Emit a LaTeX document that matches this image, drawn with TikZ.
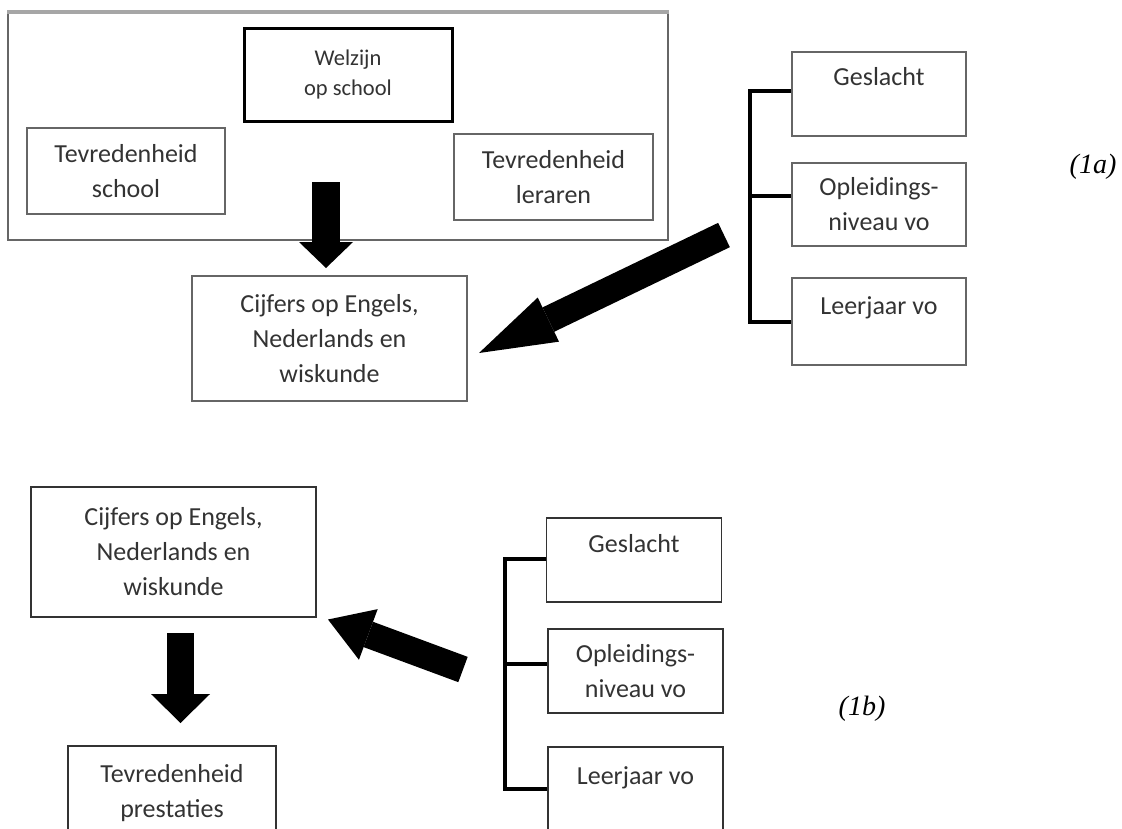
\documentclass[tikz,border=0pt]{standalone}
\usepackage{fontspec}
\setmainfont{Carlito}
\newfontfamily\tnr{Liberation Serif}
\usetikzlibrary{arrows.meta}
\begin{document}
\begin{tikzpicture}[x=1pt,y=-1pt,
  txt/.style={text=black!80, font=\fontsize{26}{35}\selectfont, align=center},
  box/.style={txt, draw=black!60, line width=2pt, inner sep=0pt},
  boxb/.style={txt, draw=black!80, line width=1.6pt, inner sep=0pt},
  toptext/.style={txt, anchor=north, inner sep=0pt},
  bracket/.style={draw=black, line width=3.5pt, line join=miter},
  fat/.style={draw=black, line width=#1},
  tag/.style={font=\tnr\itshape\fontsize{28}{32}\selectfont, inner sep=0pt}]
\useasboundingbox (0,0) rectangle (1122,828);
\clip (0,0) rectangle (1122,828);

% ---------------- (1a) ----------------
\node[box, minimum width=660pt, minimum height=227pt] (outer) at (338,126.5) {};
\draw[black!35, line width=3.5pt] (outer.north west) -- (outer.north east);
\node[txt, draw=black, line width=3pt, inner sep=0pt, minimum width=208pt, minimum height=93pt,
      font=\fontsize{22.5}{30}\selectfont] (welz) at (348,74.5) {Welzijn\\op school};
\node[box, minimum width=198pt, minimum height=86pt] (tsch) at (126,171) {Tevredenheid\\school};
\node[box, minimum width=199pt, minimum height=86pt] (tler) at (553.5,177) {Tevredenheid\\leraren};
\node[box, minimum width=275pt, minimum height=125pt] (cij1) at (329.5,338.5) {Cijfers op Engels,\\Nederlands en\\wiskunde};

\node[box, minimum width=174pt, minimum height=84pt,
      label={[toptext, yshift=-16pt]north:Geslacht}] (ges1) at (879,94) {};
\node[box, minimum width=174pt, minimum height=83pt] (opl1) at (879,204.5) {Opleidings-\\niveau vo};
\node[box, minimum width=174pt, minimum height=87pt,
      label={[toptext, yshift=-19pt]north:Leerjaar vo}] (lee1) at (879,321.5) {};

\coordinate (b1t) at (750,91);
\coordinate (b1m) at (750,196);
\coordinate (b1b) at (750,322);
\draw[bracket] (b1t -| ges1.west) -- (b1t) -- (b1b) -- (b1b -| lee1.west);
\draw[bracket] (b1m) -- (b1m -| opl1.west);

\coordinate (a1s) at (326,182);
\coordinate (a1e) at (326,268);
\draw[fat=28pt, -{Triangle[width=54pt, length=26pt, line width=0pt]}] (a1s) -- (a1e);
\coordinate (a2s) at (724,235);
\coordinate (a2e) at (479,353);
\draw[fat=27pt, -{Triangle[width=49pt, length=77pt, line width=0pt]}] (a2s) -- (a2e);

\node[tag] (l1a) at (1093,167) {(1a)};

% ---------------- (1b) ----------------
\node[boxb, minimum width=285pt, minimum height=130pt] (cij2) at (173.5,552) {Cijfers op Engels,\\Nederlands en\\wiskunde};
\node[boxb, minimum width=208pt, minimum height=110pt,
      label={[toptext, yshift=-19pt]north:Tevredenheid\\prestaties}] (tpr) at (172,801) {};

\node[boxb, minimum width=175pt, minimum height=84pt,
      label={[toptext, yshift=-17pt]north:Geslacht}] (ges2) at (634,560) {};
\node[boxb, minimum width=175pt, minimum height=84pt] (opl2) at (635.5,671) {Opleidings-\\niveau vo};
\node[boxb, minimum width=175pt, minimum height=110pt,
      label={[toptext, yshift=-20pt]north:Leerjaar vo}] (lee2) at (635.5,802) {};

\coordinate (b2t) at (505,559);
\coordinate (b2m) at (505,664);
\coordinate (b2b) at (505,789);
\draw[bracket] (b2t -| ges2.west) -- (b2t) -- (b2b) -- (b2b -| lee2.west);
\draw[bracket] (b2m) -- (b2m -| opl2.west);

\coordinate (a3s) at (463,669.5);
\coordinate (a3e) at (328,619.5);
\draw[fat=27pt, -{Triangle[width=54pt, length=43pt, line width=0pt]}] (a3s) -- (a3e);
\coordinate (a4s) at (180.5,633);
\coordinate (a4e) at (180.5,723);
\draw[fat=27pt, -{Triangle[width=59pt, length=29pt, line width=0pt]}] (a4s) -- (a4e);

\node[tag] (l1b) at (862,709) {(1b)};
\end{tikzpicture}
\end{document}
